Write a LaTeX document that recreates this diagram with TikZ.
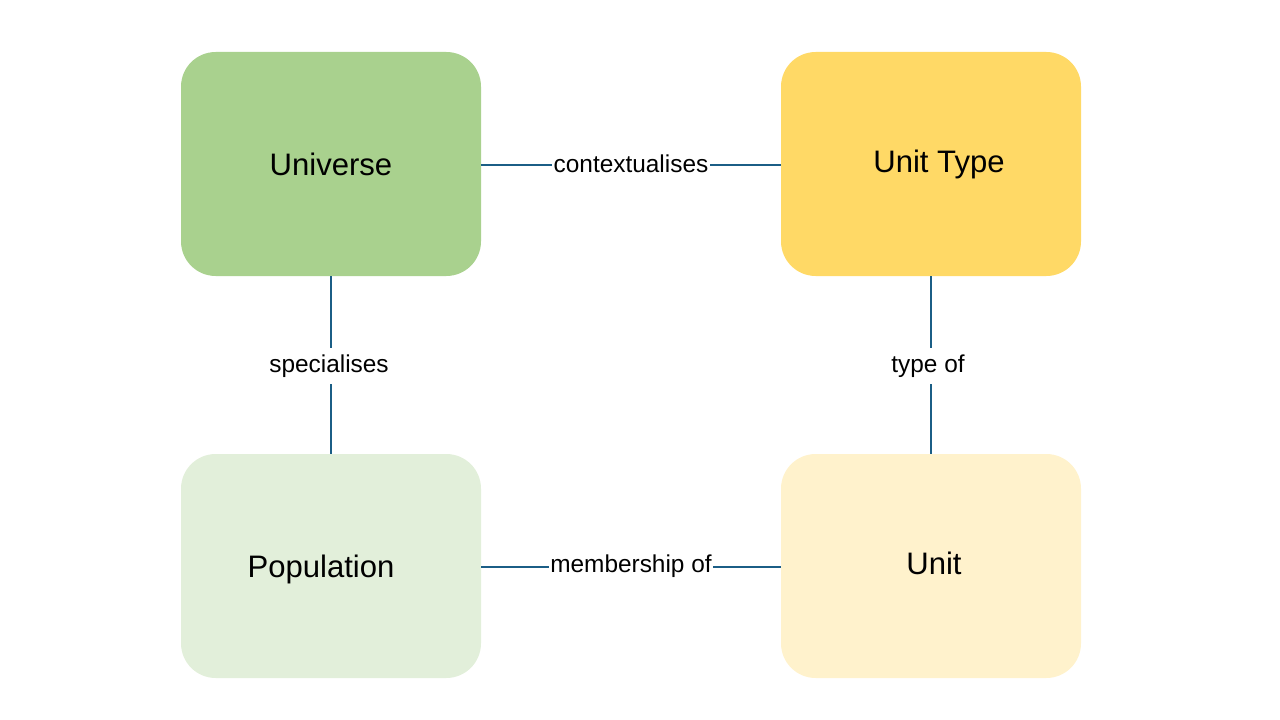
\documentclass[tikz,border=0pt]{standalone}
\usepackage{fontspec}
\setmainfont{Liberation Sans}
\definecolor{cUniv}{HTML}{A9D18E}
\definecolor{cUType}{HTML}{FFD966}
\definecolor{cPop}{HTML}{E2EFDA}
\definecolor{cUnit}{HTML}{FFF2CC}
\definecolor{cLine}{HTML}{1B5E86}
\begin{document}
\begin{tikzpicture}[x=0.75pt,y=-0.75pt,
  box/.style={draw=none,rounded corners=26pt,minimum width=225pt,minimum height=168pt,inner sep=0pt},
  boxtext/.style={font=\fontsize{23.3}{27}\selectfont,inner sep=0pt},
  conn/.style={draw=cLine,line width=1.5pt},
  lbl/.style={fill=white,font=\fontsize{18.3}{22}\selectfont,inner sep=1pt}]
\useasboundingbox (0,0) rectangle (1280,720);
\node[box,fill=cUniv] (univ) at (331,164) {};
\node[box,fill=cUType] (utype) at (931,164) {};
\node[box,fill=cPop] (pop) at (331,566) {};
\node[box,fill=cUnit] (unit) at (931,566) {};
\node[boxtext] (tuniv) at (331,164) {Universe};
\node[boxtext] (tutype) at (939,164) {Unit Type};
\node[boxtext] (tpop) at (321,569) {Population};
\node[boxtext] (tunit) at (934,563) {Unit};
\coordinate (a1) at (481,165); \coordinate (a2) at (781,165);
\coordinate (b1) at (331,276); \coordinate (b2) at (331,454);
\coordinate (c1) at (931,276); \coordinate (c2) at (931,454);
\coordinate (d1) at (481,567); \coordinate (d2) at (781,567);
\draw[conn] (a1) -- (a2);
\draw[conn] (b1) -- (b2);
\draw[conn] (c1) -- (c2);
\draw[conn] (d1) -- (d2);
\node[lbl] (l1) at (631,164) {contextualises};
\node[lbl,inner ysep=5pt] (l2) at (329,366) {specialises};
\node[lbl,inner ysep=5pt] (l3) at (928,366) {type of};
\node[lbl] (l4) at (631,566) {membership of};
\end{tikzpicture}
\end{document}
